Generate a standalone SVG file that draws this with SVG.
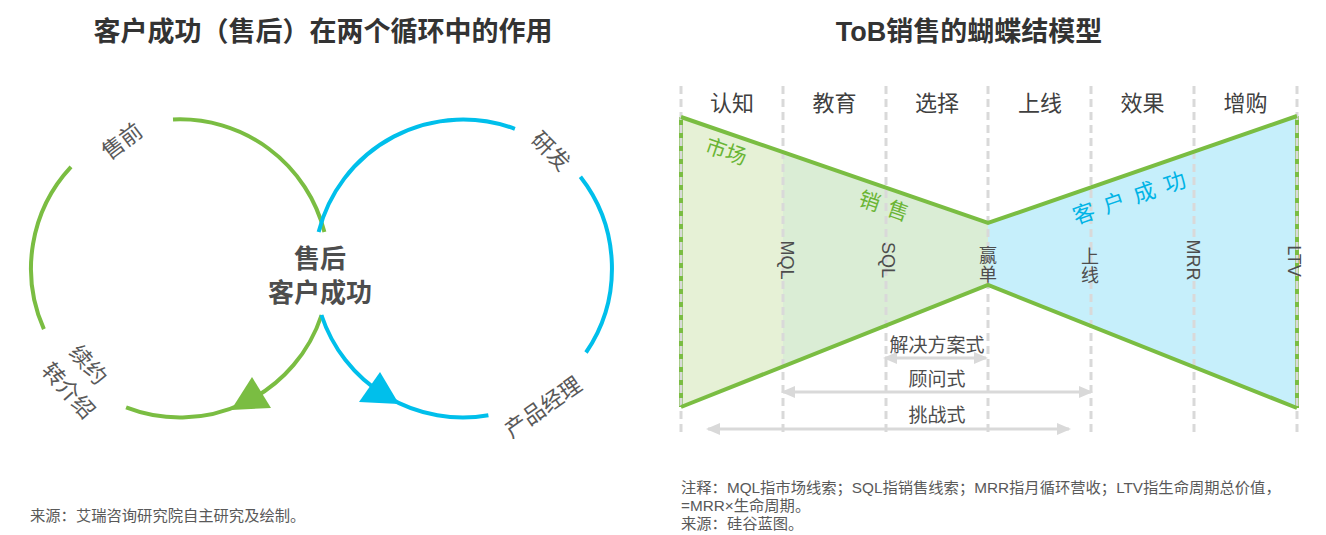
<svg xmlns="http://www.w3.org/2000/svg" width="1326" height="535" viewBox="0 0 1326 535">
<style>
.t{font-family:"Liberation Sans","Noto Sans CJK SC",sans-serif}
.title{font-size:27px;font-weight:bold;fill:#333333;text-anchor:middle}
.lbl{font-size:22px;fill:#595959;text-anchor:middle}
.ctr{font-size:26px;font-weight:bold;fill:#4d4d4d;text-anchor:middle}
.hdr{font-size:22px;fill:#404040;text-anchor:middle}
.vt{font-size:18px;fill:#4d4d4d;text-anchor:middle}
.ar{font-size:19px;fill:#4d4d4d;text-anchor:middle}
.note{font-size:15.3px;fill:#595959}
.g{fill:none;stroke:#7abd42;stroke-width:4}
.b{fill:none;stroke:#00bfeb;stroke-width:4}
.dash{stroke:#d9d9d9;stroke-width:3;stroke-dasharray:8 5}
.garr{stroke:#d9d9d9;stroke-width:3;marker-start:url(#ah);marker-end:url(#ah)}
</style>
<defs>
<marker id="ah" viewBox="0 0 14 12" refX="12" refY="6" markerWidth="14" markerHeight="12" markerUnits="userSpaceOnUse" orient="auto-start-reverse">
<path d="M0,0 L14,6 L0,12 Z" fill="#d9d9d9"/>
</marker>
</defs>
<rect width="1326" height="535" fill="#ffffff"/>

<text class="t title" x="323" y="41">客户成功（售后）在两个循环中的作用</text>
<text class="t title" x="969" y="41">ToB销售的蝴蝶结模型</text>

<g id="loops">
<path class="g" d="M173,119.5 A149,149 0 0 1 324.4,232"/>
<path class="g" d="M321.6,315 A149,149 0 0 1 126.1,407.4"/>
<path class="g" d="M43.9,329.1 A149,149 0 0 1 71,166.9"/>
<polygon points="252,377 231,410 271,408" fill="#7abd42"/>
<path class="b" d="M318.6,232 A149,149 0 0 1 514.9,128.8"/>
<path class="b" d="M580.4,176.8 A149,149 0 0 1 586,352.5"/>
<path class="b" d="M488.4,415.3 A149,149 0 0 1 321.4,315"/>
<polygon points="380,372 359,402 399,404" fill="#00bfeb"/>
</g>
<g id="center-node"><text class="t ctr" x="320" y="268">售后</text><text class="t ctr" x="320" y="302">客户成功</text></g>
<g id="presale"><text class="t lbl" transform="translate(122,141) rotate(-37)" y="8">售前</text></g>
<g id="rd"><text class="t lbl" transform="translate(551,151) rotate(45)" y="8">研发</text></g>
<g id="renew"><g transform="translate(78.5,377.5) rotate(48)"><text class="t lbl" x="-3" y="-8">续约</text><text class="t lbl" x="3" y="24">转介绍</text></g></g>
<g id="pm"><text class="t lbl" transform="translate(543,407) rotate(-35)" y="8">产品经理</text></g>

<text class="t note" x="30" y="521">来源：艾瑞咨询研究院自主研究及绘制。</text>

<g id="bowtie">
<polygon points="681,117 783,151 783,368 681,407" fill="#e6f1d6"/>
<polygon points="783,151 988,223 988,285 783,368" fill="#daedd5"/>
<polygon points="988,223 1297,116 1297,408 988,285" fill="#c6effb"/>
<line x1="681" y1="117" x2="681" y2="407" stroke="#7abd42" stroke-width="4"/>
<line x1="1297" y1="116" x2="1297" y2="408" stroke="#7abd42" stroke-width="4"/>
</g>
<g id="stage-lines">
<line class="dash" x1="681" y1="86" x2="681" y2="432"/>
<line class="dash" x1="783" y1="86" x2="783" y2="432"/>
<line class="dash" x1="886" y1="86" x2="886" y2="432"/>
<line class="dash" x1="988" y1="86" x2="988" y2="432"/>
<line class="dash" x1="1091" y1="86" x2="1091" y2="432"/>
<line class="dash" x1="1194" y1="86" x2="1194" y2="432"/>
<line class="dash" x1="1297" y1="86" x2="1297" y2="432"/>
</g>
<g id="bowtie-edges">
<polyline class="g" points="681,117 988,223 1297,116"/>
<polyline class="g" points="681,407 988,285 1297,408"/>
</g>
<g id="headers">
<text class="t hdr" x="732" y="111">认知</text>
<text class="t hdr" x="834.5" y="111">教育</text>
<text class="t hdr" x="937" y="111">选择</text>
<text class="t hdr" x="1040" y="111">上线</text>
<text class="t hdr" x="1142.5" y="111">效果</text>
<text class="t hdr" x="1245.5" y="111">增购</text>
</g>
<g id="areas">
<text class="t" font-size="21" fill="#6ab534" text-anchor="middle" transform="translate(726,152) rotate(19)" y="7">市场</text>
<text class="t" font-size="21" fill="#6ab534" text-anchor="middle" letter-spacing="9" transform="translate(888,208) rotate(19)" y="7">销售</text>
<text class="t" font-size="22" fill="#00b4e6" text-anchor="middle" letter-spacing="10" transform="translate(1134,196) rotate(-19)" y="8">客户成功</text>
</g>
<g id="milestones">
<text class="t vt" transform="translate(781,260) rotate(90)">MQL</text>
<text class="t vt" transform="translate(882,260) rotate(90)">SQL</text>
<text class="t vt" x="988" y="262">赢</text><text class="t vt" x="988" y="280.5">单</text>
<text class="t vt" x="1090" y="263">上</text><text class="t vt" x="1090" y="281.5">线</text>
<text class="t vt" transform="translate(1187,260) rotate(90)">MRR</text>
<text class="t vt" transform="translate(1288,261) rotate(90)">LTV</text>
</g>
<g id="ranges">
<line class="garr" x1="885" y1="358" x2="986" y2="358"/>
<line class="garr" x1="783" y1="392" x2="1091" y2="392"/>
<line class="garr" x1="708" y1="429" x2="1069" y2="429"/>
<text class="t ar" x="937" y="352">解决方案式</text>
<text class="t ar" x="937" y="386">顾问式</text>
<text class="t ar" x="937" y="422">挑战式</text>
</g>
<g id="notes">
<text class="t note" x="681" y="493" font-size="15.8">注释：MQL指市场线索；SQL指销售线索；MRR指月循环营收；LTV指生命周期总价值，</text>
<text class="t note" x="681" y="511" font-size="15.8">=MRR×生命周期。</text>
<text class="t note" x="681" y="529" font-size="15.8">来源：硅谷蓝图。</text>
</g>
</svg>
